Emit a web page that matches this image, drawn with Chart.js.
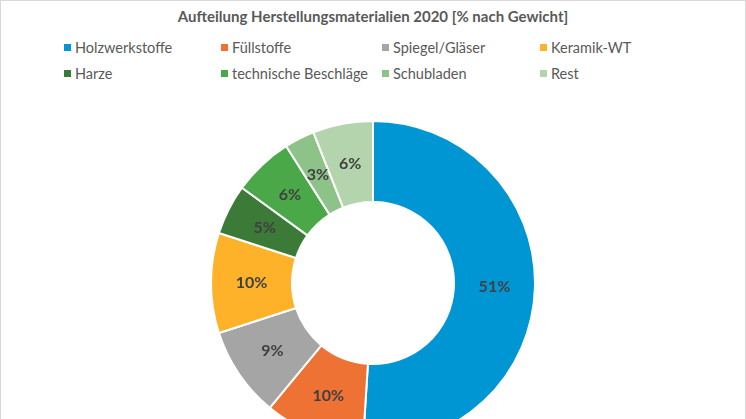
<!DOCTYPE html>
<html>
<head>
<meta charset="utf-8">
<script src="https://cdn.jsdelivr.net/npm/chart.js@4.4.1/dist/chart.umd.min.js"></script>
<style>
  html, body { margin: 0; padding: 0; background: #fff; }
  body { width: 746px; height: 419px; overflow: hidden; position: relative; font-family: Lato, "Open Sans", sans-serif; }
  #frame { position: absolute; left: 0; top: 0; width: 744px; height: 440px; border: 1px solid #d9d9d9; }
  #title { position: absolute; left: 0; top: 7px; width: 746px; text-align: center; font-weight: bold; font-size: 15px; color: #595959; }
  #legend { position: absolute; left: 64px; top: 38px; display: grid; grid-template-columns: 157px 161px 158px 150px; row-gap: 7px; font-size: 14.5px; color: #595959; }
  .item { display: flex; align-items: center; white-space: nowrap; height: 19px; }
  .box { width: 7px; height: 7px; margin-right: 4px; }
  #wrap { position: absolute; left: 210px; top: 120px; width: 326px; height: 326px; }
</style>
</head>
<body>
<div id="frame"></div>
<div id="title">Aufteilung Herstellungsmaterialien 2020 [% nach Gewicht]</div>
<div id="legend"></div>
<div id="wrap"><canvas id="donut"></canvas></div>
<script>
// Daten aus der Grafik
const categories = ['Holzwerkstoffe', 'Füllstoffe', 'Spiegel/Gläser', 'Keramik-WT', 'Harze', 'technische Beschläge', 'Schubladen', 'Rest'];
const shares = [51, 10, 9, 10, 5, 6, 3, 6];
const colors = ['#0096d4', '#ed7234', '#a5a5a5', '#fdb22a', '#3b7a37', '#4ba848', '#8dc288', '#b4d4ae'];

// Legende als HTML-Raster
const legendEl = document.getElementById('legend');
categories.forEach((name, i) => {
  legendEl.innerHTML += `<div class="item"><span class="box" style="background:${colors[i]}"></span>${name}</div>`;
});

// Prozent-Beschriftung in der Mitte jedes Segments
const sliceLabels = {
  id: 'sliceLabels',
  afterDatasetsDraw(chart) {
    const ctx = chart.ctx;
    const meta = chart.getDatasetMeta(0);
    ctx.save();
    ctx.font = 'bold 16px Lato, "Open Sans", sans-serif';
    ctx.fillStyle = '#404040';
    ctx.textAlign = 'center';
    ctx.textBaseline = 'middle';
    meta.data.forEach((arc, i) => {
      const p = arc.tooltipPosition();
      ctx.fillText(shares[i] + '%', p.x, p.y);
    });
    ctx.restore();
  }
};

new Chart(document.getElementById('donut'), {
  type: 'doughnut',
  data: {
    labels: categories,
    datasets: [{ data: shares, backgroundColor: colors, borderColor: '#ffffff', borderWidth: 2 }]
  },
  options: {
    responsive: true, maintainAspectRatio: false, animation: false,
    cutout: '50%',
    layout: { padding: 0 },
    plugins: { legend: { display: false }, tooltip: { enabled: false } }
  },
  plugins: [sliceLabels]
});
</script>
</body>
</html>
